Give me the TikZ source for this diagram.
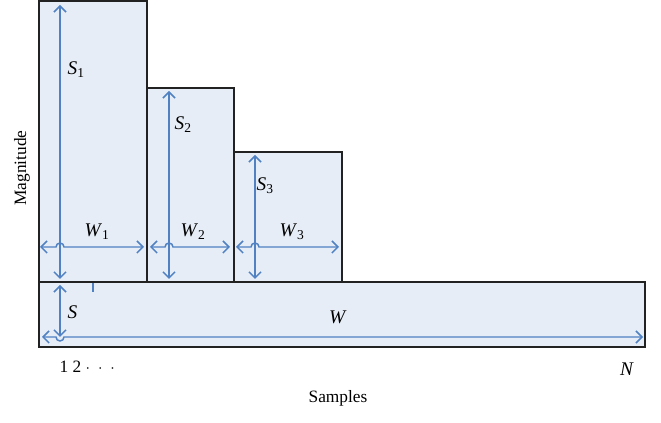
\documentclass[tikz,border=0pt]{standalone}
\usepackage{fontspec}
\setmainfont{Liberation Serif}
\usepackage{tikz}
\usetikzlibrary{arrows.meta}
\definecolor{barfill}{HTML}{E6EDF6}
\definecolor{dimblue}{HTML}{4F81C3}
\definecolor{barline}{HTML}{222222}
\newcommand{\qty}[2]{\textit{#1}\textsubscript{#2}}

\begin{document}
\begin{tikzpicture}[x=0.75pt,y=-0.75pt,font=\fontsize{13}{15}\selectfont,
  >={Straight Barb[length=1.6mm,width=3.2mm]},
  bar/.style={draw=barline,fill=barfill,line width=0.8pt},
  dim/.style={dimblue,line width=1.1pt},
  lbl/.style={inner sep=1pt},
  sym/.style={inner sep=1pt,font=\fontsize{14.5}{16}\selectfont}]
\useasboundingbox (0,0) rectangle (661,423);

% ================= the blocks =================
\draw[bar] (39,1) rectangle (147,282);     % block 1
\draw[bar] (147,88) rectangle (234,282);   % block 2
\draw[bar] (234,152) rectangle (342,282);  % block 3
\draw[bar] (39,282) rectangle (645,347);   % base block

% ================= heights =================
\draw[dim,<->] (60,5) -- (60,279);
\node[sym,anchor=west] (s1) at (66,70) {\qty{S}{1}};
\draw[dim,<->] (169,91) -- (169,279);
\node[sym,anchor=west] (s2) at (173,125) {\qty{S}{2}};
\draw[dim,<->] (255,155) -- (255,279);
\node[sym,anchor=west] (s3) at (255,186) {\qty{S}{3}};
\draw[dim,<->] (60,285) -- (60,337);
\node[sym,anchor=west] (s0) at (66,312) {\textit{S}};
\draw[dim] (93,283) -- (93,292);

% ================= widths, hopping over the heights =================
\draw[dim,<->] (40,247) -- (56,247) arc[start angle=180,end angle=360,radius=4] -- (144,247);
\node[sym] (w1) at (97,232) {\qty{W}{1}};
\draw[dim,<->] (150,247) -- (165,247) arc[start angle=180,end angle=360,radius=4] -- (230,247);
\node[sym] (w2) at (193,232) {\qty{W}{2}};
\draw[dim,<->] (236,247) -- (251,247) arc[start angle=180,end angle=360,radius=4] -- (339,247);
\node[sym] (w3) at (292,232) {\qty{W}{3}};
\draw[dim,<->] (42,337) -- (56,337) arc[start angle=180,end angle=0,radius=4] -- (643,337);
\node[sym] (w0) at (338,317) {\textit{W}};

% ================= axes text =================
\node[lbl,anchor=west] (first) at (58,367) {1 2 $\cdot\;\cdot\;\cdot$};
\node[sym] (last) at (627,369) {\textit{N}};
\node[lbl] (xlab) at (338,398) {Samples};
\node[lbl,rotate=90] (ylab) at (22,168) {Magnitude};
\end{tikzpicture}
\end{document}
